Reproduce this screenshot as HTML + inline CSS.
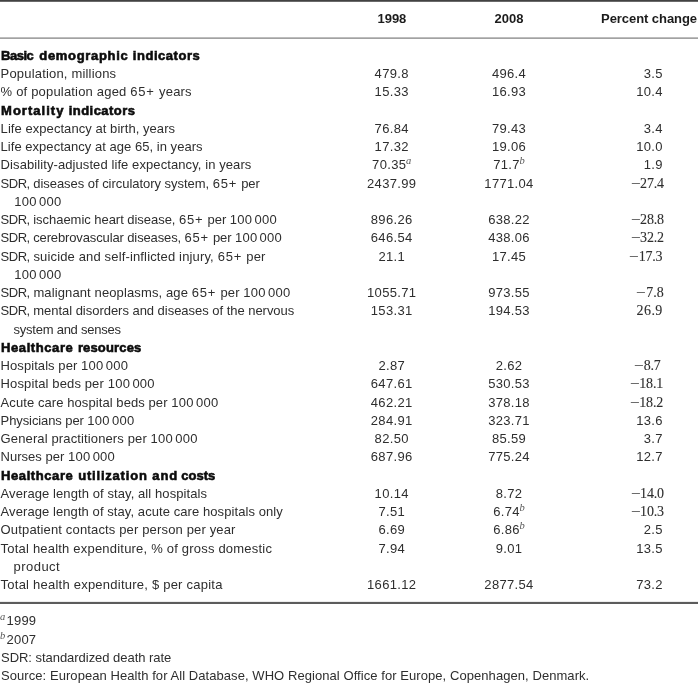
<!DOCTYPE html>
<html lang="en"><head><meta charset="utf-8"><title>Table</title>
<style>
html,body{margin:0;padding:0;background:#fff;}
body{width:698px;height:684px;position:relative;overflow:hidden;font-family:"Liberation Sans",sans-serif;font-size:13px;color:#2e2e2e;}
.t{position:absolute;white-space:nowrap;line-height:18px;height:18px;}
.b{font-weight:bold;color:#0c0c0c;-webkit-text-stroke:0.6px #0c0c0c;}
.w{position:absolute;top:0;white-space:pre;}
.hb{font-weight:bold;color:#1c1c1c;}
.c{text-align:center;}
.r{text-align:right;}
.s{font-family:"Liberation Serif",serif;font-size:14px;margin-top:0px;-webkit-text-stroke:0.1px #2e2e2e;}
.m{display:inline-block;transform:scaleX(1.22);transform-origin:100% 50%;margin-right:-0.3px;}
.sup{font-family:"Liberation Serif",serif;font-style:italic;font-size:10.5px;line-height:1px;position:relative;top:-4.7px;letter-spacing:0;margin-left:-0.3px;color:#555;}
.sup.f{margin-left:0;margin-right:0.8px;top:-4.7px;left:-0.5px;}
.p{letter-spacing:0.8px;margin-right:0.5px;}
.d{letter-spacing:0.27px;}
.h{letter-spacing:1.1px;}
.q{letter-spacing:-0.5px;}
.rule{position:absolute;left:0;width:698px;}
</style></head><body>
<div class="rule" style="top:0;height:1px;background:#424242"></div>
<div class="rule" style="top:1px;height:1px;background:#6a6a6a"></div>
<div class="rule" style="top:37px;height:1px;background:#bdbdbd"></div>
<div class="rule" style="top:38px;height:1px;background:#a2a2a2"></div>
<div class="rule" style="top:601px;height:1px;background:#ececec"></div>
<div class="rule" style="top:602px;height:2px;background:#5c5c5c"></div>
<div id="L0" class="t b" style="left:0;width:330px;top:47.00px"><span id="L0_0" class="w" style="left:1.01px;letter-spacing:-0.468px">Basic </span><span id="L0_1" class="w" style="left:39.30px;letter-spacing:0.675px">demographic </span><span id="L0_2" class="w" style="left:132.80px;letter-spacing:0.540px">indicators</span></div>
<div id="L1" class="t" style="left:0.60px;top:65.00px;letter-spacing:0.183px">Population, millions</div>
<div id="N1_0" class="t c" style="left:331.70px;width:120px;top:65.00px;letter-spacing:0.330px">479.8</div>
<div id="N1_1" class="t c" style="left:449.00px;width:120px;top:65.00px;letter-spacing:0.330px">496.4</div>
<div id="N1_2" class="t r" style="left:562.80px;width:100px;top:65.00px;letter-spacing:0.330px">3.5</div>
<div id="L2" class="t" style="left:0.60px;top:83.00px;letter-spacing:0.186px">% of population aged <span class="p">65+</span> years</div>
<div id="N2_0" class="t c" style="left:331.70px;width:120px;top:83.00px;letter-spacing:0.330px">15.33</div>
<div id="N2_1" class="t c" style="left:449.00px;width:120px;top:83.00px;letter-spacing:0.330px">16.93</div>
<div id="N2_2" class="t r" style="left:562.80px;width:100px;top:83.00px;letter-spacing:0.330px">10.4</div>
<div id="L3" class="t b" style="left:0;width:330px;top:102.00px"><span id="L3_0" class="w" style="left:1.02px;letter-spacing:1.033px">Mortality </span><span id="L3_1" class="w" style="left:68.76px;letter-spacing:0.452px">indicators</span></div>
<div id="L4" class="t" style="left:0.60px;top:120.00px;letter-spacing:0.058px">Life expectancy at birth, years</div>
<div id="N4_0" class="t c" style="left:331.70px;width:120px;top:120.00px;letter-spacing:0.330px">76.84</div>
<div id="N4_1" class="t c" style="left:449.00px;width:120px;top:120.00px;letter-spacing:0.330px">79.43</div>
<div id="N4_2" class="t r" style="left:562.80px;width:100px;top:120.00px;letter-spacing:0.330px">3.4</div>
<div id="L5" class="t" style="left:0.60px;top:138.00px;letter-spacing:0.030px">Life expectancy at age 65, in years</div>
<div id="N5_0" class="t c" style="left:331.70px;width:120px;top:138.00px;letter-spacing:0.330px">17.32</div>
<div id="N5_1" class="t c" style="left:449.00px;width:120px;top:138.00px;letter-spacing:0.330px">19.06</div>
<div id="N5_2" class="t r" style="left:562.80px;width:100px;top:138.00px;letter-spacing:0.330px">10.0</div>
<div id="L6" class="t" style="left:0.60px;top:156.00px;letter-spacing:0.087px">Disability-adjusted life expectancy, in years</div>
<div id="N6_0" class="t c" style="left:331.70px;width:120px;top:156.00px;letter-spacing:0.330px">70.35<span class="sup">a</span></div>
<div id="N6_1" class="t c" style="left:449.00px;width:120px;top:156.00px;letter-spacing:0.330px">71.7<span class="sup">b</span></div>
<div id="N6_2" class="t r" style="left:562.80px;width:100px;top:156.00px;letter-spacing:0.330px">1.9</div>
<div id="L7" class="t" style="left:0.60px;top:175.00px;letter-spacing:-0.038px"><span class="q">SDR,</span> diseases of circulatory system, <span class="p">65+</span> per</div>
<div id="N7_0" class="t c" style="left:331.70px;width:120px;top:175.00px;letter-spacing:0.330px">2437.99</div>
<div id="N7_1" class="t c" style="left:449.00px;width:120px;top:175.00px;letter-spacing:0.330px">1771.04</div>
<div id="N7_2" class="t r s" style="left:563.80px;width:100px;top:175.00px;letter-spacing:-0.200px"><span class="m">−</span>27.4</div>
<div id="L8" class="t" style="left:14.20px;top:193.00px;letter-spacing:0.310px">100<span class="h"> </span>000</div>
<div id="L9" class="t" style="left:0.60px;top:211.00px;letter-spacing:-0.036px"><span class="q">SDR,</span> ischaemic heart disease, <span class="p">65+</span> per <span class="d">100<span class="h"> </span>000</span></div>
<div id="N9_0" class="t c" style="left:331.70px;width:120px;top:211.00px;letter-spacing:0.330px">896.26</div>
<div id="N9_1" class="t c" style="left:449.00px;width:120px;top:211.00px;letter-spacing:0.330px">638.22</div>
<div id="N9_2" class="t r s" style="left:563.80px;width:100px;top:211.00px;letter-spacing:-0.200px"><span class="m">−</span>28.8</div>
<div id="L10" class="t" style="left:0.60px;top:229.00px;letter-spacing:-0.124px"><span class="q">SDR,</span> cerebrovascular diseases, <span class="p">65+</span> per <span class="d">100<span class="h"> </span>000</span></div>
<div id="N10_0" class="t c" style="left:331.70px;width:120px;top:229.00px;letter-spacing:0.330px">646.54</div>
<div id="N10_1" class="t c" style="left:449.00px;width:120px;top:229.00px;letter-spacing:0.330px">438.06</div>
<div id="N10_2" class="t r s" style="left:563.80px;width:100px;top:229.00px;letter-spacing:-0.200px"><span class="m">−</span>32.2</div>
<div id="L11" class="t" style="left:0.60px;top:248.00px;letter-spacing:0.150px"><span class="q">SDR,</span> suicide and self-inflicted injury, <span class="p">65+</span> per</div>
<div id="N11_0" class="t c" style="left:331.70px;width:120px;top:248.00px;letter-spacing:0.330px">21.1</div>
<div id="N11_1" class="t c" style="left:449.00px;width:120px;top:248.00px;letter-spacing:0.330px">17.45</div>
<div id="N11_2" class="t r s" style="left:562.40px;width:100px;top:248.00px;letter-spacing:-0.200px"><span class="m">−</span>17.3</div>
<div id="L12" class="t" style="left:14.20px;top:266.00px;letter-spacing:0.310px">100<span class="h"> </span>000</div>
<div id="L13" class="t" style="left:0.60px;top:284.00px;letter-spacing:0.120px"><span class="q">SDR,</span> malignant neoplasms, age <span class="p">65+</span> per <span class="d">100<span class="h"> </span>000</span></div>
<div id="N13_0" class="t c" style="left:331.70px;width:120px;top:284.00px;letter-spacing:0.330px">1055.71</div>
<div id="N13_1" class="t c" style="left:449.00px;width:120px;top:284.00px;letter-spacing:0.330px">973.55</div>
<div id="N13_2" class="t r s" style="left:563.80px;width:100px;top:284.00px;letter-spacing:0.050px"><span class="m">−</span>7.8</div>
<div id="L14" class="t" style="left:0.60px;top:302.00px;letter-spacing:-0.030px"><span class="q">SDR,</span> mental disorders and diseases of the nervous</div>
<div id="N14_0" class="t c" style="left:331.70px;width:120px;top:302.00px;letter-spacing:0.330px">153.31</div>
<div id="N14_1" class="t c" style="left:449.00px;width:120px;top:302.00px;letter-spacing:0.330px">194.53</div>
<div id="N14_2" class="t r s" style="left:562.80px;width:100px;top:302.00px;letter-spacing:0.450px">26.9</div>
<div id="L15" class="t" style="left:13.60px;top:321.00px;letter-spacing:-0.246px">system and senses</div>
<div id="L16" class="t b" style="left:0;width:330px;top:339.00px"><span id="L16_0" class="w" style="left:1.02px;letter-spacing:0.589px">Healthcare </span><span id="L16_1" class="w" style="left:77.88px;letter-spacing:0.160px">resources</span></div>
<div id="L17" class="t" style="left:0.60px;top:357.00px;letter-spacing:0.066px">Hospitals per <span class="d">100<span class="h"> </span>000</span></div>
<div id="N17_0" class="t c" style="left:331.70px;width:120px;top:357.00px;letter-spacing:0.330px">2.87</div>
<div id="N17_1" class="t c" style="left:449.00px;width:120px;top:357.00px;letter-spacing:0.330px">2.62</div>
<div id="N17_2" class="t r s" style="left:560.60px;width:100px;top:357.00px;letter-spacing:-0.200px"><span class="m">−</span>8.7</div>
<div id="L18" class="t" style="left:0.60px;top:375.00px;letter-spacing:0.128px">Hospital beds per <span class="d">100<span class="h"> </span>000</span></div>
<div id="N18_0" class="t c" style="left:331.70px;width:120px;top:375.00px;letter-spacing:0.330px">647.61</div>
<div id="N18_1" class="t c" style="left:449.00px;width:120px;top:375.00px;letter-spacing:0.330px">530.53</div>
<div id="N18_2" class="t r s" style="left:563.00px;width:100px;top:375.00px;letter-spacing:-0.200px"><span class="m">−</span>18.1</div>
<div id="L19" class="t" style="left:0.60px;top:394.00px;letter-spacing:0.079px">Acute care hospital beds per <span class="d">100<span class="h"> </span>000</span></div>
<div id="N19_0" class="t c" style="left:331.70px;width:120px;top:394.00px;letter-spacing:0.330px">462.21</div>
<div id="N19_1" class="t c" style="left:449.00px;width:120px;top:394.00px;letter-spacing:0.330px">378.18</div>
<div id="N19_2" class="t r s" style="left:563.00px;width:100px;top:394.00px;letter-spacing:-0.200px"><span class="m">−</span>18.2</div>
<div id="L20" class="t" style="left:0.60px;top:412.00px;letter-spacing:-0.096px">Physicians per <span class="d">100<span class="h"> </span>000</span></div>
<div id="N20_0" class="t c" style="left:331.70px;width:120px;top:412.00px;letter-spacing:0.330px">284.91</div>
<div id="N20_1" class="t c" style="left:449.00px;width:120px;top:412.00px;letter-spacing:0.330px">323.71</div>
<div id="N20_2" class="t r" style="left:562.80px;width:100px;top:412.00px;letter-spacing:0.330px">13.6</div>
<div id="L21" class="t" style="left:0.60px;top:430.00px;letter-spacing:0.128px">General practitioners per <span class="d">100<span class="h"> </span>000</span></div>
<div id="N21_0" class="t c" style="left:331.70px;width:120px;top:430.00px;letter-spacing:0.330px">82.50</div>
<div id="N21_1" class="t c" style="left:449.00px;width:120px;top:430.00px;letter-spacing:0.330px">85.59</div>
<div id="N21_2" class="t r" style="left:562.80px;width:100px;top:430.00px;letter-spacing:0.330px">3.7</div>
<div id="L22" class="t" style="left:0.60px;top:448.00px;letter-spacing:0.013px">Nurses per <span class="d">100<span class="h"> </span>000</span></div>
<div id="N22_0" class="t c" style="left:331.70px;width:120px;top:448.00px;letter-spacing:0.330px">687.96</div>
<div id="N22_1" class="t c" style="left:449.00px;width:120px;top:448.00px;letter-spacing:0.330px">775.24</div>
<div id="N22_2" class="t r" style="left:562.80px;width:100px;top:448.00px;letter-spacing:0.330px">12.7</div>
<div id="L23" class="t b" style="left:0;width:330px;top:467.00px"><span id="L23_0" class="w" style="left:1.02px;letter-spacing:0.589px">Healthcare </span><span id="L23_1" class="w" style="left:78.24px;letter-spacing:0.793px">utilization </span><span id="L23_2" class="w" style="left:152.29px;letter-spacing:0.958px">and </span><span id="L23_3" class="w" style="left:181.18px;letter-spacing:0.030px">costs</span></div>
<div id="L24" class="t" style="left:0.60px;top:485.00px;letter-spacing:0.086px">Average length of stay, all hospitals</div>
<div id="N24_0" class="t c" style="left:331.70px;width:120px;top:485.00px;letter-spacing:0.330px">10.14</div>
<div id="N24_1" class="t c" style="left:449.00px;width:120px;top:485.00px;letter-spacing:0.330px">8.72</div>
<div id="N24_2" class="t r s" style="left:563.80px;width:100px;top:485.00px;letter-spacing:-0.200px"><span class="m">−</span>14.0</div>
<div id="L25" class="t" style="left:0.60px;top:503.00px;letter-spacing:0.077px">Average length of stay, acute care hospitals only</div>
<div id="N25_0" class="t c" style="left:331.70px;width:120px;top:503.00px;letter-spacing:0.330px">7.51</div>
<div id="N25_1" class="t c" style="left:449.00px;width:120px;top:503.00px;letter-spacing:0.330px">6.74<span class="sup">b</span></div>
<div id="N25_2" class="t r s" style="left:563.80px;width:100px;top:503.00px;letter-spacing:-0.200px"><span class="m">−</span>10.3</div>
<div id="L26" class="t" style="left:0.60px;top:521.00px;letter-spacing:0.151px">Outpatient contacts per person per year</div>
<div id="N26_0" class="t c" style="left:331.70px;width:120px;top:521.00px;letter-spacing:0.330px">6.69</div>
<div id="N26_1" class="t c" style="left:449.00px;width:120px;top:521.00px;letter-spacing:0.330px">6.86<span class="sup">b</span></div>
<div id="N26_2" class="t r" style="left:562.80px;width:100px;top:521.00px;letter-spacing:0.330px">2.5</div>
<div id="L27" class="t" style="left:0.60px;top:540.00px;letter-spacing:0.204px">Total health expenditure, % of gross domestic</div>
<div id="N27_0" class="t c" style="left:331.70px;width:120px;top:540.00px;letter-spacing:0.330px">7.94</div>
<div id="N27_1" class="t c" style="left:449.00px;width:120px;top:540.00px;letter-spacing:0.330px">9.01</div>
<div id="N27_2" class="t r" style="left:562.80px;width:100px;top:540.00px;letter-spacing:0.330px">13.5</div>
<div id="L28" class="t" style="left:13.60px;top:558.00px;letter-spacing:0.441px">product</div>
<div id="L29" class="t" style="left:0.60px;top:576.00px;letter-spacing:0.232px">Total health expenditure, $ per capita</div>
<div id="N29_0" class="t c" style="left:331.70px;width:120px;top:576.00px;letter-spacing:0.330px">1661.12</div>
<div id="N29_1" class="t c" style="left:449.00px;width:120px;top:576.00px;letter-spacing:0.330px">2877.54</div>
<div id="N29_2" class="t r" style="left:562.80px;width:100px;top:576.00px;letter-spacing:0.330px">73.2</div>
<div id="H0" class="t c hb" style="left:331.90px;width:120px;top:10.00px;letter-spacing:0.000px">1998</div>
<div id="H1" class="t c hb" style="left:449.00px;width:120px;top:10.00px;letter-spacing:0.000px">2008</div>
<div id="H2" class="t r hb" style="left:497.00px;width:200px;top:10.00px;letter-spacing:-0.060px">Percent change</div>
<div id="F0" class="t" style="left:0.5px;top:612.00px;letter-spacing:0.200px"><span class="sup f">a</span>1999</div>
<div id="F1" class="t" style="left:0.5px;top:631.00px;letter-spacing:0.200px"><span class="sup f">b</span>2007</div>
<div id="F2" class="t" style="left:1px;top:649.00px;letter-spacing:-0.037px">SDR: standardized death rate</div>
<div id="F3" class="t" style="left:1px;top:667.00px;letter-spacing:0.065px">Source: European Health for All Database, WHO Regional Office for Europe, Copenhagen, Denmark.</div>
</body></html>
